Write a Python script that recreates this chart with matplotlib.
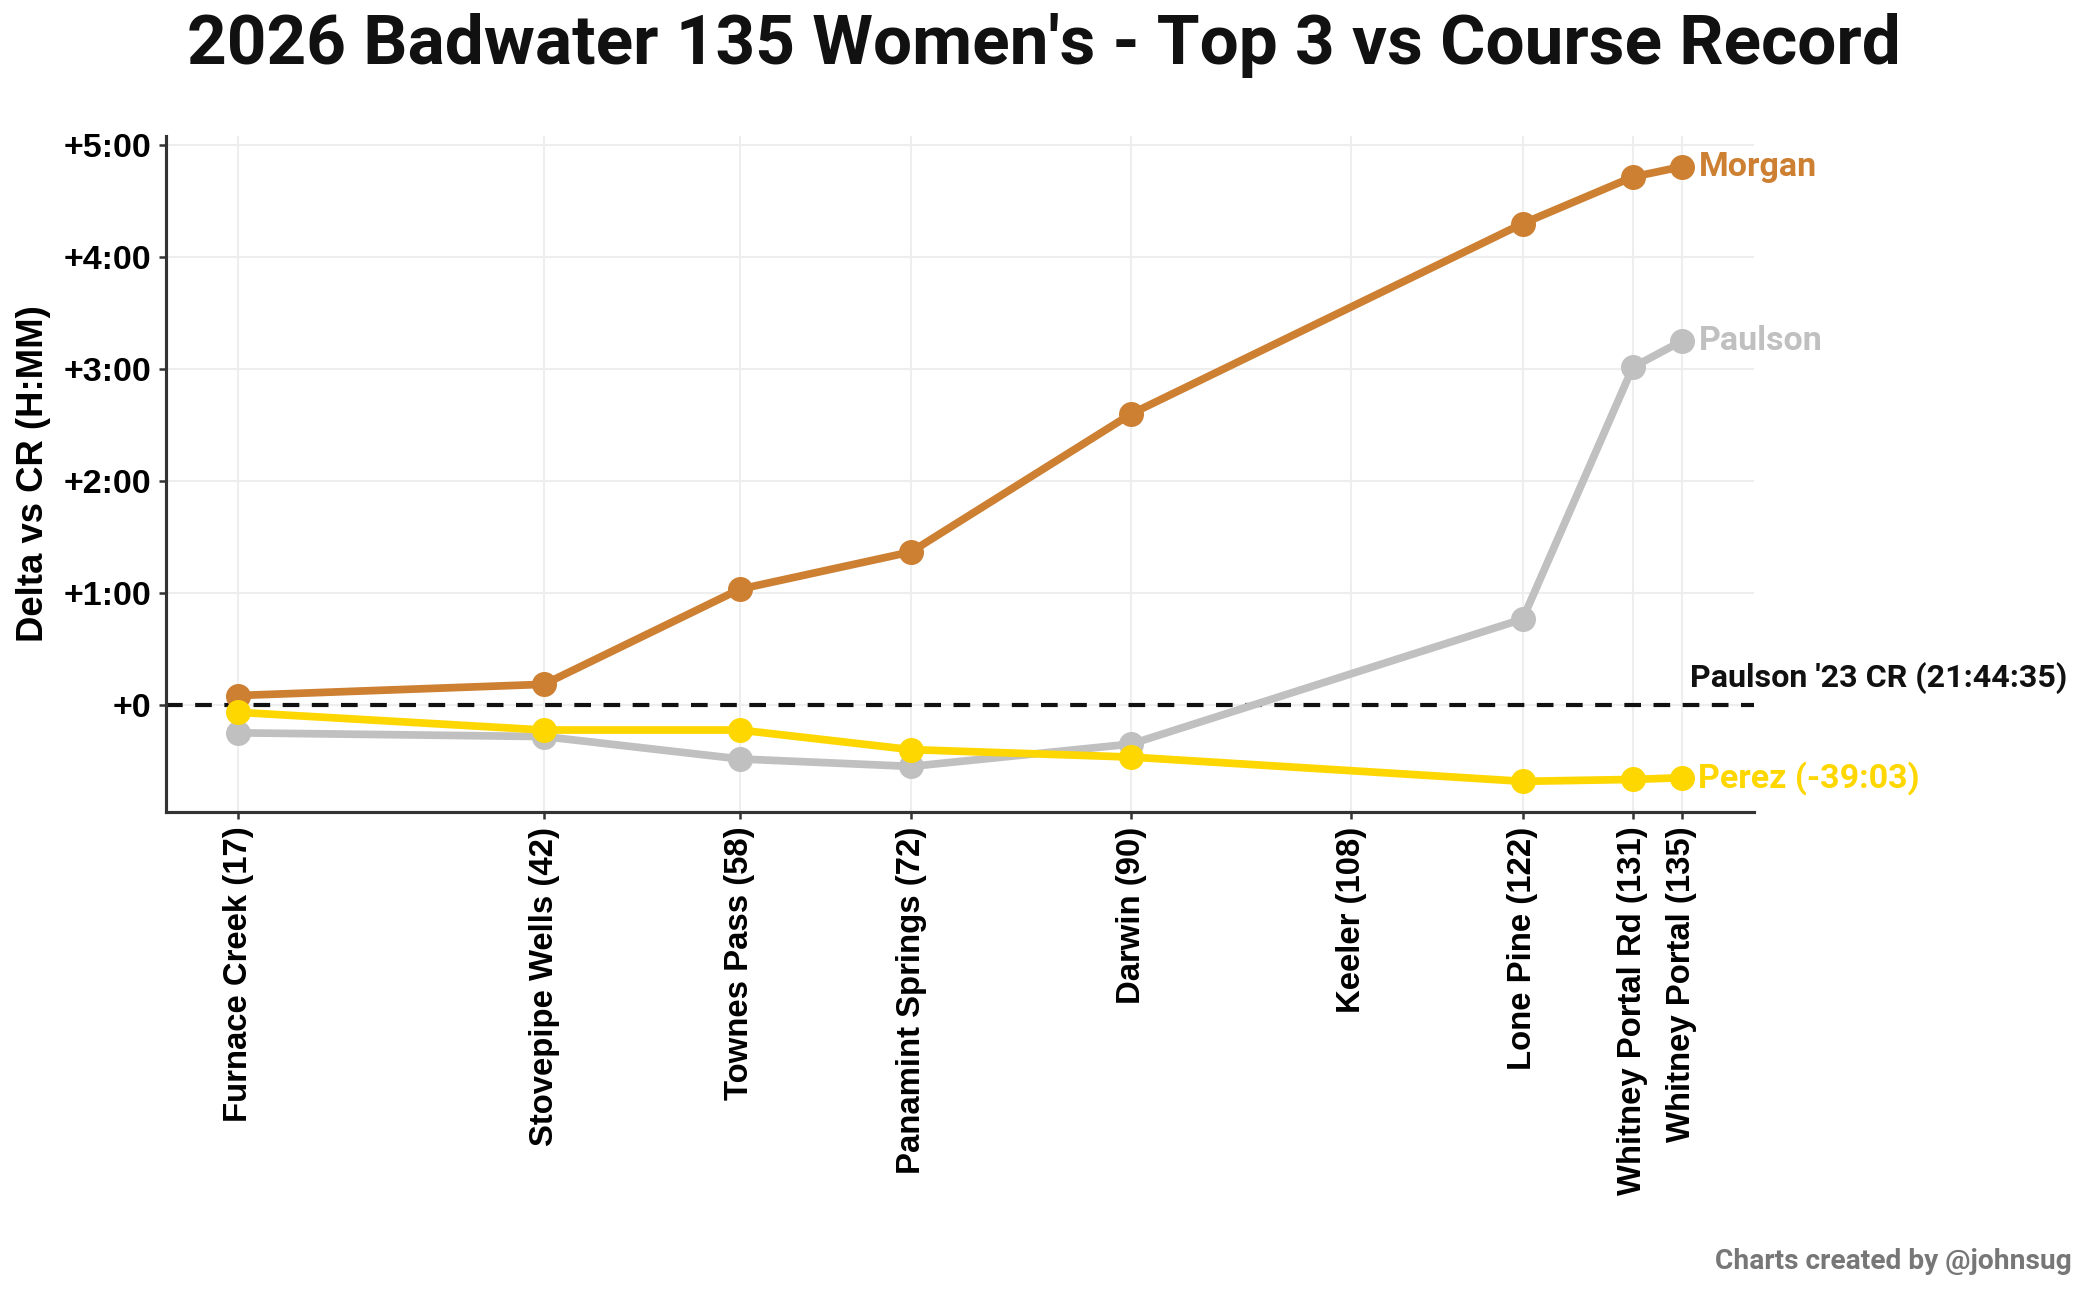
import matplotlib
matplotlib.use("Agg")
import matplotlib.pyplot as plt
from matplotlib.ticker import FuncFormatter

# Checkpoints (mile markers) and names
miles = [17, 42, 58, 72, 90, 108, 122, 131, 135]
names = ["Furnace Creek", "Stovepipe Wells", "Townes Pass", "Panamint Springs",
         "Darwin", "Keeler", "Lone Pine", "Whitney Portal Rd", "Whitney Portal"]

# Delta vs course record, in minutes (no split at Keeler)
split_miles = [17, 42, 58, 72, 90, 122, 131, 135]
morgan = [5, 11, 62, 82, 156, 258, 283, 288.5]
paulson = [-15, -17, -29, -33, -21, 46, 181, 195]
perez = [-4, -13.5, -13.5, -24, -28, -41, -40, -39.05]

runners = [
    ("Morgan", morgan, "#CD7F32", "Morgan"),
    ("Paulson", paulson, "#C0C0C0", "Paulson"),
    ("Perez", perez, "#FFD700", "Perez (-39:03)"),
]

TICK_FONT = "Liberation Sans"
LABEL_FONT = "Roboto"

fig, ax = plt.subplots(figsize=(13.92, 8.6), dpi=150)
fig.subplots_adjust(left=0.0795, right=0.840, bottom=0.3705, top=0.8946)

ax.grid(True, color="#eeeeee", lw=1.0, zorder=0)
ax.axhline(0, color="#111111", lw=2.0, ls=(0, (4, 3)), zorder=2)

for name, vals, color, label in runners:
    hrs = [v / 60 for v in vals]
    ax.plot(split_miles, hrs, color=color, lw=3.7, marker="o", ms=11,
            zorder=3, solid_capstyle="round")
    ax.annotate(label, (split_miles[-1], hrs[-1]), xytext=(8, 0),
                textcoords="offset points", ha="left", va="center",
                color=color, fontsize=16.3, fontweight="bold",
                family=LABEL_FONT, annotation_clip=False)

ax.annotate("Paulson '23 CR (21:44:35)", (135, 0), xytext=(4, 5),
            textcoords="offset points", ha="left", va="bottom",
            color="#111111", fontsize=15.5, fontweight="bold",
            family=LABEL_FONT, annotation_clip=False)

ax.set_xticks(miles)
ax.set_xticklabels([f"{n} ({m})" for n, m in zip(names, miles)], rotation=90,
                   fontsize=15.8, fontweight="bold", family=TICK_FONT)
ax.set_yticks([0, 1, 2, 3, 4, 5])
ax.yaxis.set_major_formatter(FuncFormatter(
    lambda v, _: "+0" if v == 0 else f"+{int(v)}:00"))
for lbl in ax.get_yticklabels():
    lbl.set_fontsize(16.3)
    lbl.set_fontweight("bold")
    lbl.set_family(TICK_FONT)

ax.set_ylabel("Delta vs CR (H:MM)", fontsize=17.5, fontweight="bold",
              family=TICK_FONT, labelpad=6)

for s in ["top", "right"]:
    ax.spines[s].set_visible(False)
for s in ["left", "bottom"]:
    ax.spines[s].set_color("#333333")
    ax.spines[s].set_linewidth(1.5)
ax.tick_params(color="#333333", width=1.2)

fig.suptitle("2026 Badwater 135 Women's - Top 3 vs Course Record",
             x=0.5, y=0.99, fontsize=33.3, fontweight="bold", family=LABEL_FONT,
             color="#111111")
fig.text(0.992, 0.022, "Charts created by @johnsug", ha="right", va="center",
         fontsize=13.5, fontweight="bold", color="#777777", family="Roboto")

fig.savefig("out.png")
